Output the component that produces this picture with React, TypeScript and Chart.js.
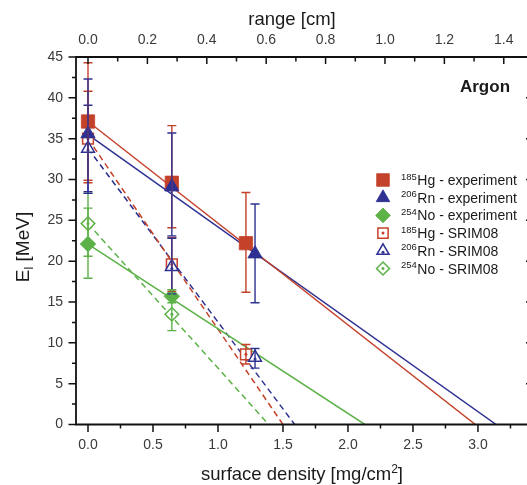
import React, { useEffect, useRef } from 'react';
import { Chart, registerables } from 'chart.js';
import { drawPoint } from 'chart.js/helpers';

Chart.register(...registerables);

// absorber thickness of each measurement position [mg/cm²]
const hgX = [0, 0.645, 1.215];
const rnX = [0, 0.645, 1.285];
const noX = [0, 0.645];

// measured recoil energies [MeV] with their error bars
const hgExp = [37.1, 29.6, 22.2];
const hgExpErrUp = [7.2, 7.0, 6.2];
const hgExpErrDown = [7.2, 5.5, 6.0];
const rnExp = [35.6, 29.1, 20.9];
const rnExpErrUp = [6.7, 6.6, 6.1];
const rnExpErrDown = [7.3, 6.0, 6.0];
const noExp = [22.1, 15.7];
const noExpErrUp = [4.4, 0.8];
const noExpErrDown = [4.2, 0.8];

// SRIM08 predictions [MeV]
const hgSrim = [35.0, 19.6, 8.6];
const hgSrimErrUp = [5.8, 3.3, 1.2];
const hgSrimErrDown = [5.4, 3.3, 1.2];
const rnSrim = [33.8, 19.3, 8.2];
const rnSrimErrUp = [5.3, 3.5, 1.1];
const rnSrimErrDown = [5.3, 3.3, 1.3];
const noSrim = [24.6, 13.5];
const noSrimErrUp = [3.7, 2.0];
const noSrimErrDown = [4.0, 2.0];

// straight-line fits: energy at zero thickness and the thickness where it drops to zero
// order: Hg exp, Rn exp, No exp, Hg SRIM, Rn SRIM, No SRIM
const fitE0 = [37.1, 35.5, 22.1, 35.0, 33.8, 24.6];
const fitRange = [2.98, 3.14, 2.13, 1.5, 1.59, 1.39];

// legend text
const legendIsotopes = ['185', '206', '254', '185', '206', '254'];
const legendNames = [
  'Hg - experiment',
  'Rn - experiment',
  'No - experiment',
  'Hg - SRIM08',
  'Rn - SRIM08',
  'No - SRIM08',
];

// axis ticks
const densityTicks = [0, 0.5, 1, 1.5, 2, 2.5, 3];
const rangeTicks = [0, 0.2, 0.4, 0.6, 0.8, 1.0, 1.2, 1.4];
const energyTicks = [0, 5, 10, 15, 20, 25, 30, 35, 40, 45];

const CM_PER_MG = 0.4377; // range in argon per unit surface density
const X_MIN = -0.0923;
const X_MAX = 3.408;

const RED = '#c4412a';
const BLUE = '#2e3192';
const GREEN = '#5cb247';
const FONT = "'Liberation Sans', Arial, Helvetica, sans-serif";

const W = 545;
const H = 485;

const pts = (xs: number[], ys: number[]) => xs.map((x, i) => ({ x, y: ys[i] }));

type Marker = {
  label: string;
  data: { x: number; y: number }[];
  color: string;
  style: string;
  radius: number;
  open: boolean;
  errUp: number[];
  errDown: number[];
};

const markers: Marker[] = [
  { label: 'Hg - experiment', data: pts(hgX, hgExp), color: RED, style: 'rect', radius: 9.4, open: false, errUp: hgExpErrUp, errDown: hgExpErrDown },
  { label: 'Rn - experiment', data: pts(rnX, rnExp), color: BLUE, style: 'triangle', radius: 8.3, open: false, errUp: rnExpErrUp, errDown: rnExpErrDown },
  { label: 'No - experiment', data: pts(noX, noExp), color: GREEN, style: 'rectRot', radius: 7.8, open: false, errUp: noExpErrUp, errDown: noExpErrDown },
  { label: 'Hg - SRIM08', data: pts(hgX, hgSrim), color: RED, style: 'rect', radius: 7.6, open: true, errUp: hgSrimErrUp, errDown: hgSrimErrDown },
  { label: 'Rn - SRIM08', data: pts(rnX, rnSrim), color: BLUE, style: 'triangle', radius: 7.4, open: true, errUp: rnSrimErrUp, errDown: rnSrimErrDown },
  { label: 'No - SRIM08', data: pts(noX, noSrim), color: GREEN, style: 'rectRot', radius: 6.8, open: true, errUp: noSrimErrUp, errDown: noSrimErrDown },
];

const fitColors = [RED, BLUE, GREEN, RED, BLUE, GREEN];

type Part = { t: string; size: number; dy: number; bold?: boolean };

function drawRich(ctx: CanvasRenderingContext2D, parts: Part[], cx: number, baseline: number, color: string) {
  let w = 0;
  const widths = parts.map((p) => {
    ctx.font = `${p.bold ? 'bold ' : ''}${p.size}px ${FONT}`;
    const m = ctx.measureText(p.t).width;
    w += m;
    return m;
  });
  let x = cx - w / 2;
  ctx.fillStyle = color;
  ctx.textAlign = 'left';
  ctx.textBaseline = 'alphabetic';
  parts.forEach((p, i) => {
    ctx.font = `${p.bold ? 'bold ' : ''}${p.size}px ${FONT}`;
    ctx.fillText(p.t, x, baseline + p.dy);
    x += widths[i];
  });
}

const decorations = {
  id: 'decorations',
  afterDatasetsDraw(chart: any) {
    const ctx: CanvasRenderingContext2D = chart.ctx;
    const yScale = chart.scales.y;
    ctx.save();
    chart.data.datasets.forEach((ds: any, di: number) => {
      if (!ds.errUp) return;
      const meta = chart.getDatasetMeta(di);
      ctx.strokeStyle = ds.borderColor;
      ctx.lineWidth = 1.4;
      meta.data.forEach((el: any, i: number) => {
        const v = ds.data[i].y;
        const x = el.x;
        const yTop = yScale.getPixelForValue(v + ds.errUp[i]);
        const yBot = yScale.getPixelForValue(v - ds.errDown[i]);
        ctx.beginPath();
        ctx.moveTo(x, yTop);
        ctx.lineTo(x, yBot);
        ctx.moveTo(x - 4.5, yTop);
        ctx.lineTo(x + 4.5, yTop);
        ctx.moveTo(x - 4.5, yBot);
        ctx.lineTo(x + 4.5, yBot);
        ctx.stroke();
        if (ds.centerDot) {
          ctx.fillStyle = ds.borderColor;
          ctx.beginPath();
          ctx.arc(x, el.y + (ds.pointStyle === 'triangle' ? 1.5 : 0), 1.5, 0, Math.PI * 2);
          ctx.fill();
        }
      });
    });
    ctx.restore();
  },
  afterDraw(chart: any) {
    const ctx: CanvasRenderingContext2D = chart.ctx;
    const ca = chart.chartArea;
    const xs = chart.scales.x;
    const x2 = chart.scales.x2;
    const ys = chart.scales.y;
    ctx.save();
    ctx.strokeStyle = '#111';
    ctx.lineWidth = 1.8;
    ctx.lineCap = 'butt';

    // frame
    ctx.beginPath();
    ctx.moveTo(ca.left, ca.top - 0.9);
    ctx.lineTo(ca.left, ca.bottom + 0.9);
    ctx.moveTo(ca.left - 0.9, ca.bottom);
    ctx.lineTo(ca.right + 0.9, ca.bottom);
    ctx.moveTo(ca.left - 0.9, ca.top);
    ctx.lineTo(ca.right + 0.9, ca.top);
    ctx.moveTo(ca.right, ca.top);
    ctx.lineTo(ca.right, ca.bottom);
    ctx.stroke();

    ctx.lineWidth = 1.5;
    ctx.beginPath();
    // energy axis: outward on the left, inward (major only) on the right
    for (let v = 0; v <= 45.001; v += 2.5) {
      const y = ys.getPixelForValue(v);
      const major = Math.abs(v / 5 - Math.round(v / 5)) < 1e-6;
      ctx.moveTo(ca.left, y);
      ctx.lineTo(ca.left - (major ? 7.5 : 4), y);
      if (major && v > 0 && v < 45) {
        ctx.moveTo(ca.right, y);
        ctx.lineTo(ca.right - 5, y);
      }
    }
    // surface density axis: outward
    for (let v = 0; v <= X_MAX; v += 0.25) {
      const x = xs.getPixelForValue(v);
      const major = Math.abs(v / 0.5 - Math.round(v / 0.5)) < 1e-6;
      ctx.moveTo(x, ca.bottom);
      ctx.lineTo(x, ca.bottom + (major ? 7.5 : 4));
    }
    // range axis: inward
    for (let v = 0; v <= X_MAX * CM_PER_MG; v += 0.1) {
      const x = x2.getPixelForValue(v);
      const major = Math.abs(v / 0.2 - Math.round(v / 0.2)) < 1e-6;
      ctx.moveTo(x, ca.top);
      ctx.lineTo(x, ca.top + (major ? 7 : 4.5));
    }
    ctx.stroke();

    // axis titles
    drawRich(ctx, [{ t: 'range [cm]', size: 18.5, dy: 0 }], 292, 24.5, '#1a1a1a');
    drawRich(
      ctx,
      [
        { t: 'surface density [mg/cm', size: 18.5, dy: 0 },
        { t: '2', size: 12, dy: -7.5 },
        { t: ']', size: 18.5, dy: 0 },
      ],
      302,
      480,
      '#1a1a1a'
    );
    ctx.save();
    ctx.translate(23, 247);
    ctx.rotate(-Math.PI / 2);
    drawRich(
      ctx,
      [
        { t: 'E', size: 19, dy: 0 },
        { t: 'l', size: 12.5, dy: 4 },
        { t: ' [MeV]', size: 19, dy: 0 },
      ],
      0,
      5.5,
      '#1a1a1a'
    );
    ctx.restore();

    // gas label
    drawRich(ctx, [{ t: 'Argon', size: 17, dy: 0, bold: true }], 485, 92, '#1a1a1a');

    // legend
    const lx = 383;
    chart.data.datasets.forEach((ds: any) => {
      if (ds.legendIndex === undefined) return;
      const k = ds.legendIndex;
      const y = 180 + k * 17.7;
      ctx.save();
      ctx.fillStyle = ds.backgroundColor;
      ctx.strokeStyle = ds.borderColor;
      ctx.lineWidth = ds.borderWidth;
      drawPoint(ctx, { pointStyle: ds.pointStyle, radius: ds.pointRadius * 0.95, rotation: 0, borderWidth: ds.borderWidth } as any, lx, y);
      if (ds.centerDot) {
        ctx.fillStyle = ds.borderColor;
        ctx.beginPath();
        ctx.arc(lx, y + (ds.pointStyle === 'triangle' ? 1.5 : 0), 1.5, 0, Math.PI * 2);
        ctx.fill();
      }
      ctx.restore();
      ctx.fillStyle = '#1a1a1a';
      ctx.textAlign = 'left';
      ctx.textBaseline = 'alphabetic';
      ctx.font = `9.5px ${FONT}`;
      ctx.fillText(legendIsotopes[k], 401, y - 0.5);
      const sw = ctx.measureText(legendIsotopes[k]).width;
      ctx.font = `14px ${FONT}`;
      ctx.fillText(legendNames[k], 401 + sw + 0.5, y + 5);
    });
    ctx.restore();
  },
};

export default function App() {
  const canvasRef = useRef<HTMLCanvasElement | null>(null);

  useEffect(() => {
    const canvas = canvasRef.current;
    if (!canvas) return;

    const fitSets = fitE0.map((e0, i) => ({
      label: 'fit ' + i,
      data: [
        { x: 0, y: e0 },
        { x: fitRange[i], y: 0 },
      ],
      showLine: true,
      borderColor: fitColors[i],
      borderWidth: 1.5,
      borderDash: i >= 3 ? [6, 4] : [],
      pointRadius: 0,
      fill: false,
      order: 3,
    }));

    // open SRIM markers first, filled experimental markers on top
    const drawOrder = [3, 4, 5, 0, 1, 2];
    const markerSets = drawOrder.map((k, n) => {
      const m = markers[k];
      return {
        label: m.label,
        data: m.data,
        showLine: false,
        pointStyle: m.style,
        pointRadius: m.radius,
        pointHoverRadius: m.radius,
        borderColor: m.color,
        backgroundColor: m.open ? '#ffffff' : m.color,
        borderWidth: m.open ? 1.5 : 0.8,
        pointBorderWidth: m.open ? 1.5 : 0.8,
        errUp: m.errUp,
        errDown: m.errDown,
        centerDot: m.open,
        legendIndex: k,
        order: 2 - n * 0.1,
      };
    });

    const tickFont = { family: FONT, size: 14 };
    const tickColor = '#3a3a3a';

    const chart = new Chart(canvas, {
      type: 'scatter',
      data: { datasets: [...fitSets, ...markerSets] as any },
      options: {
        responsive: false,
        animation: false,
        devicePixelRatio: 1,
        events: [],
        layout: { padding: { left: 0, top: 0, bottom: 0, right: W - 531 } },
        plugins: {
          legend: { display: false },
          tooltip: { enabled: false },
        },
        scales: {
          x: {
            type: 'linear',
            position: 'bottom',
            min: X_MIN,
            max: X_MAX,
            grid: { display: false, drawTicks: false },
            border: { display: false },
            ticks: {
              padding: 12.5,
              font: tickFont,
              color: tickColor,
              autoSkip: false,
              maxRotation: 0,
              callback: (v: any) => Number(v).toFixed(1),
            },
            afterBuildTicks: (s: any) => {
              s.ticks = densityTicks.map((value) => ({ value }));
            },
            afterFit: (s: any) => {
              s.height = 60.5;
            },
          },
          x2: {
            type: 'linear',
            position: 'top',
            min: X_MIN * CM_PER_MG,
            max: X_MAX * CM_PER_MG,
            grid: { display: false, drawTicks: false },
            border: { display: false },
            ticks: {
              padding: 8.5,
              font: tickFont,
              color: tickColor,
              autoSkip: false,
              maxRotation: 0,
              callback: (v: any) => Number(v).toFixed(1),
            },
            afterBuildTicks: (s: any) => {
              s.ticks = rangeTicks.map((value) => ({ value }));
            },
            afterFit: (s: any) => {
              s.height = 57;
            },
          },
          y: {
            type: 'linear',
            position: 'left',
            min: 0,
            max: 45,
            grid: { display: false, drawTicks: false },
            border: { display: false },
            ticks: {
              padding: 13,
              font: tickFont,
              color: tickColor,
              autoSkip: false,
              callback: (v: any) => String(v),
            },
            afterBuildTicks: (s: any) => {
              s.ticks = energyTicks.map((value) => ({ value }));
            },
            afterFit: (s: any) => {
              s.width = 76;
            },
          },
        },
      },
      plugins: [decorations],
    });

    return () => {
      chart.destroy();
    };
  }, []);

  return (
    <div
      style={{
        position: 'absolute',
        left: 0,
        top: 0,
        width: 527,
        height: 485,
        overflow: 'hidden',
        background: '#ffffff',
      }}
    >
      <canvas ref={canvasRef} width={W} height={H} style={{ width: W, height: H, display: 'block' }} />
    </div>
  );
}
